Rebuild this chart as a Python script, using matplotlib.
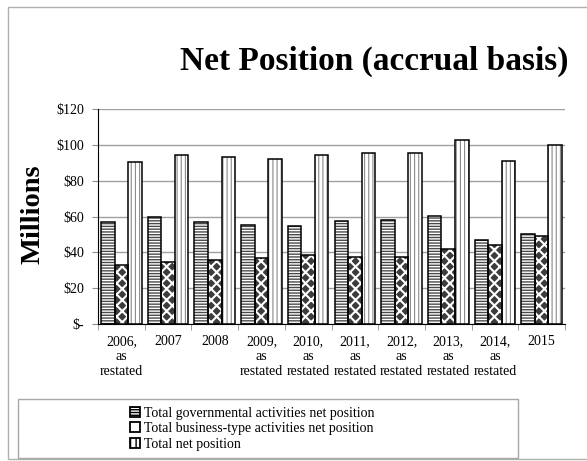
import numpy as np
import matplotlib
matplotlib.use('Agg')
import matplotlib.pyplot as plt
from matplotlib.patches import Patch, Rectangle

plt.rcParams['font.family'] = ['Liberation Serif', 'DejaVu Serif']

# Data (millions of dollars)
years = ['2006,\nas\nrestated', '2007', '2008', '2009,\nas\nrestated', '2010,\nas\nrestated',
         '2011,\nas\nrestated', '2012,\nas\nrestated', '2013,\nas\nrestated', '2014,\nas\nrestated', '2015']
governmental = [57.2, 59.6, 57.0, 55.3, 54.9, 57.5, 57.9, 60.5, 46.7, 50.3]
business = [33.1, 34.4, 35.9, 36.7, 38.7, 37.6, 37.3, 41.7, 44.0, 49.2]
total = [90.5, 94.4, 93.3, 92.2, 94.4, 95.5, 95.5, 102.9, 91.2, 99.8]
series_names = ['Total governmental activities net position',
                'Total business-type activities net position',
                'Total net position']
yticks = [0, 20, 40, 60, 80, 100, 120]


def hatched_bars(ax, x, vals, w, face, hcolor, hatch, hlw):
    # hatch layer first, then a plain black outline on top
    with plt.rc_context({'hatch.linewidth': hlw}):
        bars = ax.bar(x, vals, w, color=face, edgecolor=hcolor, hatch=hatch, linewidth=0, zorder=2)
        for b in bars:
            if hasattr(b, 'set_hatch_linewidth'):
                b.set_hatch_linewidth(hlw)
    ax.bar(x, vals, w, fill=False, edgecolor='black', linewidth=1.1, zorder=3)


fig = plt.figure(figsize=(5.87, 4.61), dpi=100)
ax = fig.add_axes([0.167, 0.297, 0.7955, 0.4666])

x = np.arange(len(years))
w = 0.29
hatched_bars(ax, x - w, governmental, w, 'white', '#4a4a4a', '------', 1.0)
hatched_bars(ax, x, business, w, '#3c3c3c', 'white', 'xxx', 1.5)
hatched_bars(ax, x + w, total, w, 'white', '#8a8a8a', '||||', 0.8)

ax.set_xlim(-0.5, len(years) - 0.5)
ax.set_ylim(0, 120)
ax.set_yticks(yticks)
ax.set_yticklabels(['$-' if v == 0 else '${}'.format(v) for v in yticks], fontsize=10)
ax.set_xticks(x)
ax.set_xticklabels(years, fontsize=10)
ax.set_xticks(np.arange(len(years) + 1) - 0.5, minor=True)
ax.tick_params(axis='x', which='major', length=0, pad=8)
ax.tick_params(axis='x', which='minor', length=4, color='#909090', direction='out')
ax.tick_params(axis='y', length=4, color='#909090', pad=6)

ax.yaxis.grid(True, color='#a0a0a0', linewidth=1)
ax.set_axisbelow(True)
for s in ['top', 'right']:
    ax.spines[s].set_visible(False)
ax.spines['left'].set_color('black')
ax.spines['bottom'].set_color('black')

fig.text(0.637, 0.866, 'Net Position (accrual basis)', fontsize=24, fontweight='bold',
         ha='center', va='center')
fig.text(0.056, 0.536, 'Millions', fontsize=20.5, fontweight='bold', rotation=90,
         ha='center', va='center')

# outer chart frame and legend frame
fig.patches.append(Rectangle((8 / 587, 2 / 461), 1.0, 452 / 461, transform=fig.transFigure,
                             fill=False, edgecolor='#b0b0b0', linewidth=1))
fig.patches.append(Rectangle((18 / 587, 3 / 461), 500 / 587, 59 / 461, transform=fig.transFigure,
                             fill=False, edgecolor='#a8a8a8', linewidth=1))

handles = [Patch(facecolor='white', edgecolor='black', linewidth=1.3, hatch='------'),
           Patch(facecolor='white', edgecolor='black', linewidth=1.3),
           Patch(facecolor='white', edgecolor='black', linewidth=1.3, hatch='|||')]
fig.legend(handles, series_names, loc='upper left', bbox_to_anchor=(0.205, 0.139),
           frameon=False, fontsize=10, handlelength=0.7, handleheight=0.7,
           handletextpad=0.3, labelspacing=0.18, borderpad=0.2)

fig.savefig('out.png', dpi=100)
